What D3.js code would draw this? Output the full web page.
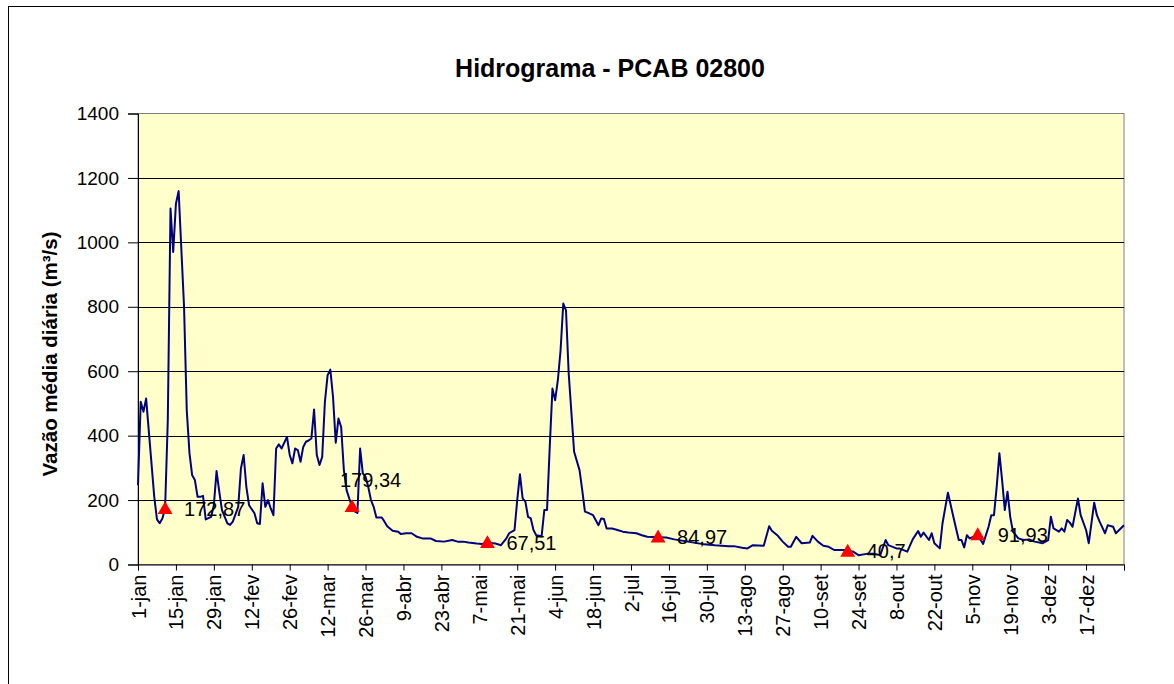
<!DOCTYPE html>
<html>
<head>
<meta charset="utf-8">
<script src="https://cdn.jsdelivr.net/npm/d3@7"></script>
<style>
  html, body { margin: 0; padding: 0; background: #ffffff; }
  svg { display: block; font-family: "Liberation Sans", Arial, sans-serif; }
</style>
</head>
<body>
<svg id="chart" width="1174" height="684"></svg>
<script>
// ---- data (day of year index, 0 = 1-jan) ----
const days = [0,1,2,3,6,7,8,9,10,11,12,13,14,15,17,18,19,20,21,22,23,24,25,27,28,29,30,31,33,34,35,37,38,39,40,41,43,44,45,46,47,48,49,50,51,52,53,55,56,57,58,59,60,61,62,63,64,65,66,67,68,69,70,71,72,73,74,75,76,77,78,79,80,81,82,83,84,85,86,87,88,90,91,92,94,96,97,99,101,103,105,108,110,113,116,118,120,122,125,127,129,132,134,136,137,139,140,141,142,143,144,145,146,147,149,150,151,152,153,154,155,156,157,158,159,161,163,164,165,166,168,170,171,172,173,175,177,179,181,184,186,188,192,195,198,203,208,213,218,220,223,225,227,231,233,234,236,238,240,241,243,245,248,249,251,253,255,257,261,262,264,266,269,272,274,276,277,280,281,284,286,288,289,290,292,293,294,296,297,299,301,302,303,304,305,306,307,310,312,314,315,316,317,318,319,320,321,322,323,325,327,329,331,334,336,337,338,340,341,342,343,344,345,347,348,350,351,353,354,355,357,358,360,361,364];
const flow = [246,505,474,515,210,140,128,143,172.87,448,1105,970,1120,1159,800,479,346,277,262,210,210,213,140,148,184,290,226,169,128,123,133,179,298,340,241,184,159,128,126,252,179,200,174,153,360,373,360,396,340,314,360,355,319,365,381,385,391,481,340,309,334,505,588,605,520,378,453,427,293,231,205,179.34,165,160,360,283,272,241,200,179,146,146,133,119,105,102,95,97,97,86,81,81,73,71,76,71,71,68,65,64,67.51,65,60,81,97,107,200,280,205,195,148,143,107,91,88,169,169,365,546,510,572,665,810,789,593,350,293,231,164,161,153,122,143,141,112,112,107,102,99,97,91,86,84.97,84,78,71,64,60,57,57,52,50,60,58,119,105,91,71,55,55,86,66,68,89,71,58,55,45,45,40.7,40,29,33,33,29,76,60,50,50,40,78,104,86,99,76,97,66,50,128,223,148,112,76,76,53,91,81,91.93,64,117,153,153,241,345,262,169,226,148,102,81,76,78,71,66,76,148,112,102,112,102,138,130,117,205,153,107,66,192,153,133,97,122,117,97,122];

// monthly minimum markers
const markerDays = [10, 79, 129, 192, 262, 310];
const markerValues = [172.87, 179.34, 67.51, 84.97, 40.7, 91.93];
const markerLabels = ["172,87", "179,34", "67,51", "84,97", "40,7", "91,93"];

// x tick labels (every 14 days)
const tickDays = [0,14,28,42,56,70,84,98,112,126,140,154,168,182,196,210,224,238,252,266,280,294,308,322,336,350];
const tickLabels = ["1-jan","15-jan","29-jan","12-fev","26-fev","12-mar","26-mar","9-abr","23-abr","7-mai","21-mai","4-jun","18-jun","2-jul","16-jul","30-jul","13-ago","27-ago","10-set","24-set","8-out","22-out","5-nov","19-nov","3-dez","17-dez"];
const yTicks = [0,200,400,600,800,1000,1200,1400];

const titleText = "Hidrograma - PCAB 02800";
const yTitleText = "Vazão média diária (m³/s)";

// ---- layout ----
const svg = d3.select("#chart");
const L = 138, R = 1124, T = 113.5, B = 564.5;

const x = d3.scaleLinear().domain([0, 364]).range([L, R]);
const y = d3.scaleLinear().domain([0, 1400]).range([B, T]);

// outer frame (only top & left visible)
svg.append("rect").attr("x", 8.5).attr("y", 6.5).attr("width", 1200).attr("height", 700)
  .attr("fill", "#ffffff").attr("stroke", "#000000").attr("stroke-width", 1);

// plot background
svg.append("rect").attr("x", L).attr("y", T).attr("width", R - L).attr("height", B - T)
  .attr("fill", "#FFFFCC").attr("stroke", "#808080").attr("stroke-width", 1);

// gridlines
svg.append("g").selectAll("line").data(yTicks.filter(v => v > 0 && v < 1400)).join("line")
  .attr("x1", L).attr("x2", R)
  .attr("y1", d => Math.round(y(d)) + 0.5).attr("y2", d => Math.round(y(d)) + 0.5)
  .attr("stroke", "#000000").attr("stroke-width", 1);

// y axis
const yAxis = svg.append("g").attr("transform", `translate(${L},0)`)
  .call(d3.axisLeft(y).tickValues(yTicks).tickSize(10).tickPadding(9).tickFormat(d3.format("d")));
yAxis.select(".domain").attr("stroke", "#000000");
yAxis.selectAll(".tick line").attr("stroke", "#000000");
yAxis.selectAll("text").attr("font-size", 19).attr("fill", "#000000")
  .attr("font-family", "'Liberation Sans', Arial, sans-serif");

// x axis
const xAxis = svg.append("g").attr("transform", `translate(0,${B})`)
  .call(d3.axisBottom(x).tickValues(tickDays.concat([364])).tickSize(6)
    .tickFormat((d) => { const i = tickDays.indexOf(d); return i >= 0 ? tickLabels[i] : ""; }));
xAxis.select(".domain").attr("stroke", "#000000");
xAxis.selectAll(".tick line").attr("stroke", "#000000");
xAxis.selectAll("text")
  .attr("font-size", 20).attr("fill", "#000000")
  .attr("font-family", "'Liberation Sans', Arial, sans-serif")
  .attr("text-anchor", "end")
  .attr("transform", "rotate(-90)")
  .attr("x", -10).attr("y", 0).attr("dy", "0.35em");

// line
const line = d3.line().x((d, i) => x(days[i])).y((d) => y(d));
svg.append("path").datum(flow)
  .attr("d", line)
  .attr("fill", "none").attr("stroke", "#000080").attr("stroke-width", 2)
  .attr("stroke-linejoin", "round");

// markers
svg.append("g").selectAll("path").data(markerValues).join("path")
  .attr("d", d3.symbol().type(d3.symbolTriangle).size(95))
  .attr("transform", (d, i) => `translate(${x(markerDays[i])},${y(d) + 1})`)
  .attr("fill", "#FF0000");

// marker labels
const labelOffsets = [[19, 0], [-12, -27], [19, 0], [19, 0], [19, 0], [20, 0]];
svg.append("g").selectAll("text").data(markerLabels).join("text")
  .attr("x", (d, i) => x(markerDays[i]) + labelOffsets[i][0])
  .attr("y", (d, i) => y(markerValues[i]) + labelOffsets[i][1])
  .attr("dy", "0.35em")
  .attr("font-size", 20).attr("fill", "#000000")
  .text(d => d);

// title
svg.append("text").attr("x", 610).attr("y", 77)
  .attr("text-anchor", "middle").attr("font-size", 25).attr("font-weight", "bold")
  .attr("fill", "#000000").text(titleText);

// y-axis title
svg.append("text")
  .attr("transform", `translate(57,354) rotate(-90)`)
  .attr("text-anchor", "middle").attr("font-size", 20.5).attr("font-weight", "bold")
  .attr("fill", "#000000").text(yTitleText);
</script>
</body>
</html>
